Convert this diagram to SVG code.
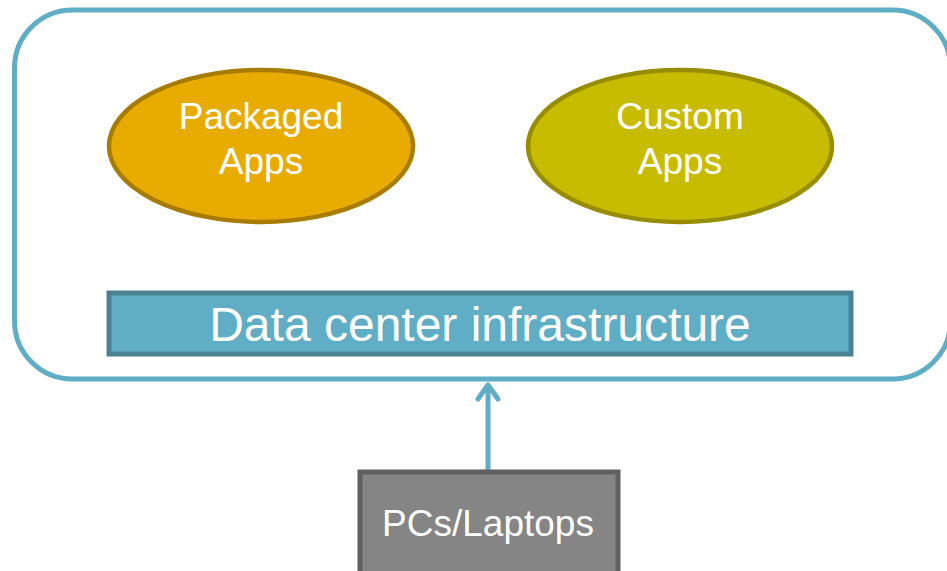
<svg xmlns="http://www.w3.org/2000/svg" width="947" height="571" viewBox="0 0 947 571">
<style>
text{font-family:"Liberation Sans",Arial,sans-serif;fill:#fff;text-anchor:middle}
.app{font-size:37px}
</style>
<g id="datacenter-boundary">
<rect x="14.5" y="10" width="936" height="369" rx="58" fill="#fff" stroke="#5FAEC6" stroke-width="5"/>
</g>
<g id="packaged-apps">
<ellipse cx="261" cy="146" rx="152" ry="76" fill="#E8AC00" stroke="#A87C00" stroke-width="4.5"/>
<text class="app" x="261" y="129">Packaged</text>
<text class="app" x="261" y="174">Apps</text>
</g>
<g id="custom-apps">
<ellipse cx="680" cy="146" rx="152" ry="76" fill="#C8BC00" stroke="#968E00" stroke-width="4.5"/>
<text class="app" x="680" y="129">Custom</text>
<text class="app" x="680" y="174">Apps</text>
</g>
<g id="infrastructure">
<rect x="109" y="293" width="742" height="61" fill="#5FAEC6" stroke="#4A8294" stroke-width="5"/>
<text x="480" y="341" font-size="48">Data center infrastructure</text>
</g>
<g id="connectors">
<line x1="488" y1="470" x2="488" y2="385" stroke="#5FAEC6" stroke-width="5"/>
<polyline points="478,399 488,385 498,399" fill="none" stroke="#5FAEC6" stroke-width="5" stroke-linecap="round" stroke-linejoin="round"/>
</g>
<g id="pcs-laptops">
<rect x="360" y="472" width="258" height="104" fill="#858585" stroke="#606060" stroke-width="5"/>
<text x="488" y="536" font-size="37">PCs/Laptops</text>
</g>
</svg>
